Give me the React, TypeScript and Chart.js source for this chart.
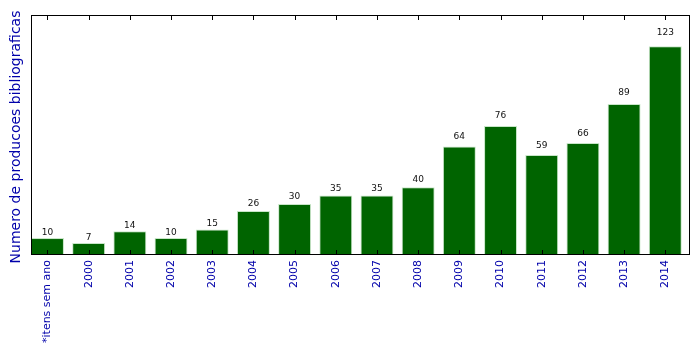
import React, { useEffect, useRef } from "react";
import { Chart, registerables } from "chart.js";

Chart.register(...registerables);

const categories = [
  "*itens sem ano", "2000", "2001", "2002", "2003", "2004", "2005", "2006",
  "2007", "2008", "2009", "2010", "2011", "2012", "2013", "2014",
];
const counts = [10, 7, 14, 10, 15, 26, 30, 35, 35, 40, 64, 76, 59, 66, 89, 123];
const yTitle = "Numero de producoes bibliograficas";

const FONT = "'DejaVu Sans', sans-serif";
const BLUE = "#0000aa";

const decorPlugin = {
  id: "decor",
  afterDatasetsDraw(chart: any) {
    const { ctx, chartArea } = chart;
    const xs = chart.scales.x;
    const ys = chart.scales.y;
    ctx.save();
    // frame
    ctx.strokeStyle = "#000";
    ctx.lineWidth = 1;
    ctx.strokeRect(
      Math.round(chartArea.left) + 0.5,
      Math.round(chartArea.top) + 0.5,
      Math.round(chartArea.right - chartArea.left) - 1,
      Math.round(chartArea.bottom - chartArea.top) - 1
    );
    // inward ticks top and bottom
    ctx.beginPath();
    categories.forEach((_, i) => {
      const x = Math.round(xs.getPixelForValue(i)) + 0.5;
      ctx.moveTo(x, chartArea.bottom);
      ctx.lineTo(x, chartArea.bottom - 5);
      ctx.moveTo(x, chartArea.top);
      ctx.lineTo(x, chartArea.top + 5);
    });
    ctx.stroke();
    // value labels
    const meta = chart.getDatasetMeta(0);
    ctx.fillStyle = "#111";
    ctx.font = `9px ${FONT}`;
    ctx.textAlign = "center";
    ctx.textBaseline = "alphabetic";
    meta.data.forEach((bar: any, i: number) => {
      const y = ys.getPixelForValue(counts[i] * 1.04 + 1.6);
      ctx.fillText(String(counts[i]), bar.x, y);
    });
    // y title
    ctx.fillStyle = BLUE;
    ctx.font = `14px ${FONT}`;
    ctx.textAlign = "center";
    ctx.textBaseline = "middle";
    ctx.translate(16, (chartArea.top + chartArea.bottom) / 2 + 2);
    ctx.rotate(-Math.PI / 2);
    ctx.fillText(yTitle, 0, 0);
    ctx.restore();
  },
};

export default function App() {
  const ref = useRef<HTMLCanvasElement>(null);
  useEffect(() => {
    document.body.style.margin = "0";
    const chart = new Chart(ref.current!, {
      type: "bar",
      data: {
        datasets: [
          {
            data: counts.map((v, i) => ({ x: i, y: v })),
            backgroundColor: "#006400",
            borderColor: "#c8e6c8",
            borderWidth: 1,
            barPercentage: 0.8,
            categoryPercentage: 1,
          },
        ],
      },
      options: {
        responsive: false,
        animation: false,
        events: [],
        layout: { padding: { top: 15, right: 9, left: 0, bottom: 0 } },
        plugins: { legend: { display: false }, tooltip: { enabled: false } },
        scales: {
          x: {
            type: "linear",
            min: -0.4,
            max: 15.6,
            offset: false,
            grid: { display: false, drawTicks: false },
            border: { display: false },
            afterFit: (s: any) => { s.height = 99; },
            afterBuildTicks: (s: any) => {
              s.ticks = categories.map((_, i) => ({ value: i }));
            },
            ticks: {
              autoSkip: false,
              minRotation: 90,
              maxRotation: 90,
              padding: 5,
              color: BLUE,
              font: { family: FONT, size: 11 },
              callback: (v: any) => categories[v as number] ?? "",
            },
          },
          y: {
            min: 0,
            max: 141.45,
            grid: { display: false },
            border: { display: false },
            ticks: { display: false },
            afterFit: (s: any) => { s.width = 31; },
          },
        },
      },
      plugins: [decorPlugin],
    } as any);
    return () => chart.destroy();
  }, []);
  return <canvas ref={ref} width={699} height={354} style={{ display: "block" }} />;
}
